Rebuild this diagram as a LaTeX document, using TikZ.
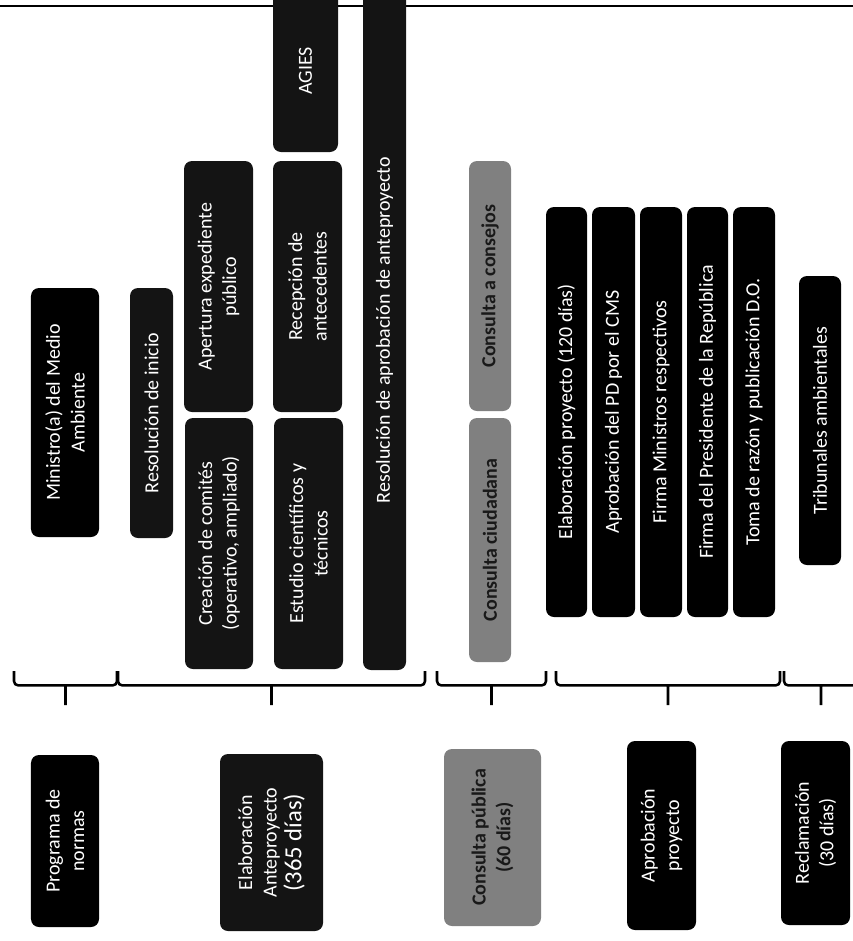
\documentclass[tikz,border=0pt]{standalone}
\usepackage{fontspec}
\setmainfont{Carlito}
\usetikzlibrary{calc}
\tikzset{
  task/.style   = {rounded corners=0.2cm, fill=black, text=white, rotate=90,
                   align=center, inner sep=2pt, font=\fontsize{14.2}{17.5}\selectfont},
  taskdk/.style = {task, fill=black!92},
  taskgy/.style = {task, fill=black!50, text=black!90,
                   font=\fontsize{14.2}{17.5}\selectfont\bfseries},
  grp/.style    = {line width=1.8pt, rounded corners=3pt, to path={
                   let \p1=(\tikztostart), \p2=(\tikztotarget) in
                   (\p1) -- (\x1,\y1-0.36cm) -- ({(\x1+\x2)/2},\y1-0.36cm) -- (\x2,\y2-0.36cm) -- (\p2)
                   ({(\x1+\x2)/2},\y1-0.36cm) -- ({(\x1+\x2)/2},\y1-0.85cm)}},
  topline/.style = {line width=1pt},
}
% box from pixel corners (x1,y1) to (x2,y2), text reads bottom to top
\newcommand{\taskbox}[7][task]{%
  \pgfmathsetmacro{\tbw}{(#6-#4)*0.025}
  \pgfmathsetmacro{\tbh}{(#5-#3)*0.025}
  \node[#1, minimum width=\tbw cm, minimum height=\tbh cm] (#2)
    at ({(#3+#5)/2},{(#4+#6)/2}) {#7};
}
\begin{document}
\begin{tikzpicture}[x=0.025cm, y=-0.025cm]
  \useasboundingbox (0,0) rectangle (853,941);
  \clip (0,0) rectangle (853,941);
  \draw[topline] (0,6) -- (853,6);

  % top row of tasks
  \taskbox{min}{31}{288}{99}{537}{Ministro(a) del Medio\\Ambiente}
  \taskbox[taskdk]{resini}{130}{288}{173}{538}{Resolución de inicio}
  \taskbox[taskdk]{apert}{184}{161}{253}{412}{Apertura expediente\\público}
  \taskbox[taskdk]{comit}{185}{418}{253}{669}{Creación de comités\\(operativo, ampliado)}
  \taskbox[taskdk]{recep}{273}{161}{342}{412}{Recepción de\\antecedentes}
  \taskbox[taskdk]{estud}{274}{418}{343}{669}{Estudio científicos y\\técnicos}
  \taskbox[taskdk]{agies}{273}{-10}{338}{152}{AGIES}
  \taskbox[taskdk]{resapr}{363}{-10}{406}{670}{Resolución de aprobación de anteproyecto}
  \taskbox[taskgy]{consej}{469}{161}{511}{411}{Consulta a consejos}
  \taskbox[taskgy]{ciuda}{469}{418}{511}{662}{Consulta ciudadana}
  \taskbox{elab}{546}{207}{587}{617}{Elaboración proyecto (120 días)}
  \taskbox{cms}{592}{207}{635}{617}{Aprobación del PD por el CMS}
  \taskbox{firmin}{640}{207}{682}{617}{Firma Ministros respectivos}
  \taskbox{firpres}{687}{207}{728}{617}{Firma del Presidente de la República}
  \taskbox{toma}{733}{207}{775}{617}{Toma de razón y publicación D.O.}
  \taskbox{trib}{799}{276}{841}{565}{Tribunales ambientales}

  % braces
  \coordinate (g1a) at (14,671);  \coordinate (g1b) at (117,671);
  \coordinate (g2a) at (118,671); \coordinate (g2b) at (425,671);
  \coordinate (g3a) at (437,671); \coordinate (g3b) at (546,671);
  \coordinate (g4a) at (556,671); \coordinate (g4b) at (780,671);
  \coordinate (g5a) at (784,671); \coordinate (g5b) at (858,671);
  \foreach \g in {1,...,5}
    \draw[grp] (g\g a) to (g\g b);

  % stages
  \taskbox{prog}{31}{755}{99}{927}{Programa de\\normas}
  \taskbox[taskdk]{anteproy}{220}{754}{323}{931}{Elaboración\\Anteproyecto\\{\fontsize{17.5}{20}\selectfont (365 días)}}
  \taskbox[taskgy]{cpub}{444}{749}{541}{926}{Consulta pública\\(60 días)}
  \taskbox{aprob}{627}{741}{696}{930}{Aprobación\\proyecto}
  \taskbox{recl}{781}{741}{850}{925}{Reclamación\\(30 días)}
\end{tikzpicture}
\end{document}
